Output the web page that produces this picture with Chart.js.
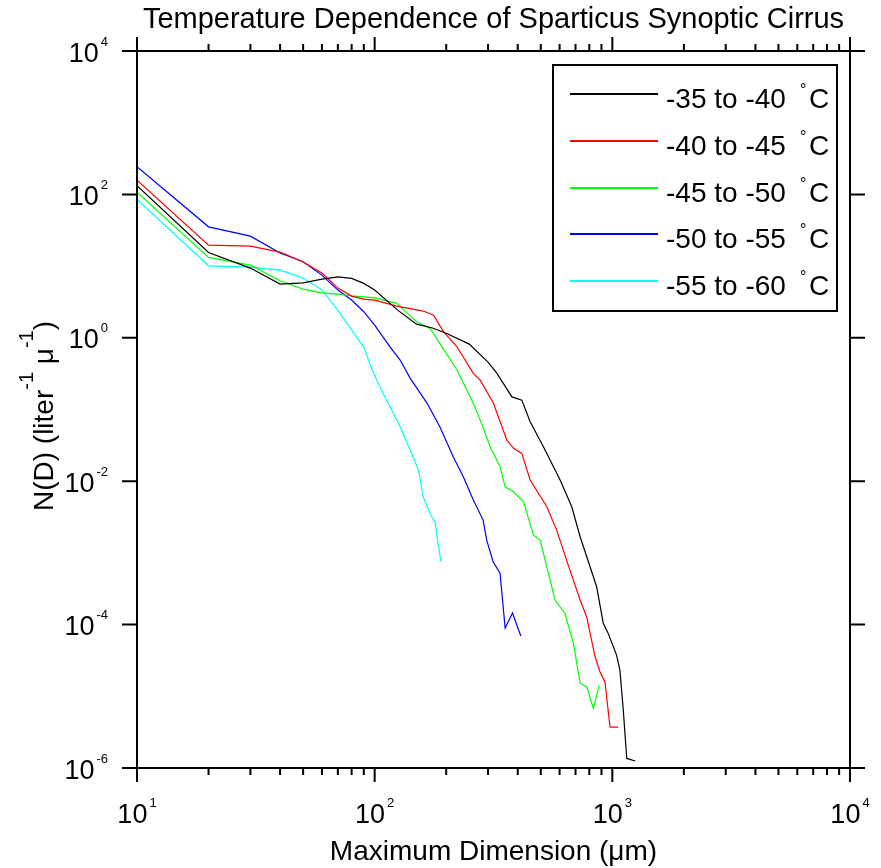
<!DOCTYPE html>
<html>
<head>
<meta charset="utf-8">
<script src="https://cdn.jsdelivr.net/npm/chart.js"></script>
<style>
  html, body { margin: 0; padding: 0; background: #fff; }
  canvas { display: block; }
</style>
</head>
<body>
<canvas id="sizeDist" width="881" height="868"></canvas>
<script>
const titleText = "Temperature Dependence of Sparticus Synoptic Cirrus";
const xTitle = "Maximum Dimension (\u03bcm)";
const seriesNames = ["-35 to -40", "-40 to -45", "-45 to -50", "-50 to -55", "-55 to -60"];
const seriesColors = ["#000000", "#ff0000", "#00ff00", "#0000ff", "#00ffff"];

// -35 to -40 C
const d35 = [10, 20, 30, 40, 50, 60, 70, 80, 90, 100, 125, 150, 175, 200, 250, 300, 327, 378, 416, 451, 513, 603, 675, 732, 806, 859, 916, 961, 1042, 1076, 1112, 1150, 1248];
const n35 = [132, 15.5, 9.38, 5.61, 5.85, 6.59, 7.09, 6.74, 5.74, 4.63, 2.43, 1.55, 1.37, 1.16, 0.817, 0.458, 0.319, 0.150, 0.135, 0.0674, 0.0302, 0.0104, 4.40e-3, 1.68e-3, 6.40e-4, 3.37e-4, 1.04e-4, 7.54e-5, 3.76e-5, 2.32e-5, 6.42e-6, 1.36e-6, 1.25e-6];

// -40 to -45 C
const d40 = [10, 20, 30, 40, 50, 60, 70, 80, 90, 100, 124, 160, 177, 195, 222, 260, 278, 316, 360, 384, 416, 451, 530, 583, 663, 732, 780, 846, 887, 931, 978, 1059];
const n40 = [158, 19.6, 19.0, 15.7, 11.4, 7.99, 4.93, 3.82, 3.47, 3.36, 2.77, 2.36, 2.07, 1.21, 0.749, 0.319, 0.257, 0.122, 0.0374, 0.0287, 0.0244, 0.0104, 4.40e-3, 2.08e-3, 5.75e-4, 2.20e-4, 1.28e-4, 3.56e-5, 2.20e-5, 1.59e-5, 3.72e-6, 3.72e-6];

// -45 to -50 C
const d45 = [10, 20, 30, 40, 50, 60, 70, 80, 90, 100, 124, 150, 171, 188, 222, 260, 278, 306, 337, 354, 384, 423, 466, 497, 530, 574, 632, 686, 732, 780, 832, 881];
const n45 = [107, 13.2, 10.3, 6.24, 4.78, 4.24, 4.07, 3.85, 3.73, 3.61, 3.02, 1.67, 1.35, 0.835, 0.355, 0.122, 0.0711, 0.0302, 0.0159, 8.36e-3, 7.11e-3, 5.16e-3, 1.77e-3, 1.51e-3, 6.40e-4, 2.20e-4, 1.43e-4, 5.47e-5, 1.51e-5, 1.36e-5, 6.78e-6, 1.43e-5];

// -50 to -55 C
const d50 = [10, 20, 30, 40, 50, 60, 70, 80, 90, 100, 116, 128, 141, 166, 188, 214, 236, 260, 286, 296, 315, 337, 354, 380, 412];
const n50 = [243, 35.3, 26.2, 15.2, 11.5, 7.49, 4.63, 3.36, 2.31, 1.50, 0.749, 0.489, 0.274, 0.123, 0.0574, 0.0219, 0.0115, 5.45e-3, 2.87e-3, 1.51e-3, 7.52e-4, 5.23e-4, 8.93e-5, 1.45e-4, 6.92e-5];

// -55 to -60 C
const d55 = [10, 20, 30, 40, 50, 60, 70, 80, 90, 97, 105, 128, 141, 153, 160, 171, 180, 183, 190];
const n55 = [85.2, 10.1, 9.68, 8.79, 6.80, 4.63, 2.43, 1.28, 0.742, 0.374, 0.207, 0.0574, 0.0272, 0.0143, 6.06e-3, 3.56e-3, 2.58e-3, 1.68e-3, 7.52e-4];

const xDecades = [10, 100, 1000, 10000];
const xDecadeExp = ["1", "2", "3", "4"];
const yDecades = [1e-6, 1e-4, 1e-2, 1, 1e2, 1e4];
const yDecadeExp = ["-6", "-4", "-2", "0", "2", "4"];

const FONT = "'Liberation Sans', Arial, sans-serif";

const toPoints = (xs, ys) => xs.map((x, i) => ({ x, y: ys[i] }));
const allX = [d35, d40, d45, d50, d55];
const allY = [n35, n40, n45, n50, n55];

const datasets = seriesNames.map((name, i) => ({
  label: name,
  data: toPoints(allX[i], allY[i]),
  borderColor: seriesColors[i],
  borderWidth: 1.2,
  pointRadius: 0,
  fill: false,
  tension: 0,
}));

// "10" with a raised exponent
function powerLabel(ctx, exp, x, y, align) {
  ctx.font = "27px " + FONT;
  const wMain = ctx.measureText("10").width;
  ctx.font = "13px " + FONT;
  const wExp = ctx.measureText(exp).width;
  const gap = 2;
  const total = wMain + gap + wExp;
  const left = align === "center" ? x - total / 2 : x - total;
  ctx.font = "27px " + FONT;
  ctx.fillText("10", left, y);
  ctx.font = "13px " + FONT;
  ctx.fillText(exp, left + wMain + gap, y - 16);
}

const framePlugin = {
  id: "frame",
  afterDraw(chart) {
    const { ctx, chartArea: a } = chart;
    const xs = chart.scales.x;
    const ys = chart.scales.y;
    ctx.save();
    ctx.strokeStyle = "#000";
    ctx.fillStyle = "#000";
    ctx.lineWidth = 2;

    // axes box
    ctx.beginPath();
    ctx.moveTo(a.left - 1, a.bottom);
    ctx.lineTo(a.right + 1, a.bottom);
    ctx.moveTo(a.left - 1, a.top);
    ctx.lineTo(a.right + 1, a.top);
    ctx.moveTo(a.left, a.top);
    ctx.lineTo(a.left, a.bottom);
    ctx.moveTo(a.right, a.top);
    ctx.lineTo(a.right, a.bottom);

    // x ticks, bottom and top, pointing out
    xDecades.forEach((d, k) => {
      const px = xs.getPixelForValue(d);
      ctx.moveTo(px, a.bottom);
      ctx.lineTo(px, a.bottom + 14);
      ctx.moveTo(px, a.top);
      ctx.lineTo(px, a.top - 14);
      if (k < xDecades.length - 1) {
        for (let m = 2; m <= 9; m++) {
          const mx = xs.getPixelForValue(m * d);
          ctx.moveTo(mx, a.bottom);
          ctx.lineTo(mx, a.bottom + 7);
          ctx.moveTo(mx, a.top);
          ctx.lineTo(mx, a.top - 7);
        }
      }
    });

    // y ticks, left and right
    yDecades.forEach((d) => {
      const py = ys.getPixelForValue(d);
      ctx.moveTo(a.left - 15, py);
      ctx.lineTo(a.left, py);
      ctx.moveTo(a.right, py);
      ctx.lineTo(a.right + 15, py);
    });
    ctx.stroke();

    // tick labels
    ctx.textAlign = "left";
    ctx.textBaseline = "alphabetic";
    xDecades.forEach((d, k) => {
      powerLabel(ctx, xDecadeExp[k], xs.getPixelForValue(d), a.bottom + 55, "center");
    });
    yDecades.forEach((d, k) => {
      powerLabel(ctx, yDecadeExp[k], a.left - 29, ys.getPixelForValue(d) + 10.5, "right");
    });

    // title and x title
    const cx = (a.left + a.right) / 2;
    ctx.textAlign = "center";
    ctx.font = "29px " + FONT;
    ctx.fillText(titleText, cx, 28);
    ctx.font = "28px " + FONT;
    ctx.fillText(xTitle, cx, 860);

    // y title with superscripts
    const parts = [
      ["N(D) (liter", 28, 0],
      ["-1", 20, -20],
      [" \u03bc", 28, 0],
      ["-1", 20, -20],
      [")", 28, 0],
    ];
    ctx.textAlign = "left";
    let total = 0;
    parts.forEach((p) => {
      ctx.font = p[1] + "px " + FONT;
      total += ctx.measureText(p[0]).width;
    });
    ctx.save();
    ctx.translate(53, 416);
    ctx.rotate(-Math.PI / 2);
    let tx = -total / 2;
    parts.forEach((p) => {
      ctx.font = p[1] + "px " + FONT;
      ctx.fillText(p[0], tx, p[2]);
      tx += ctx.measureText(p[0]).width;
    });
    ctx.restore();

    // legend
    const box = { l: 553, t: 65, r: 837, b: 311 };
    ctx.fillStyle = "#fff";
    ctx.fillRect(box.l, box.t, box.r - box.l, box.b - box.t);
    ctx.strokeStyle = "#000";
    ctx.lineWidth = 2;
    ctx.strokeRect(box.l, box.t, box.r - box.l, box.b - box.t);
    seriesNames.forEach((name, i) => {
      const ry = Math.round(94 + i * 46.8);
      ctx.fillStyle = seriesColors[i];
      ctx.fillRect(570, ry - 1, 88, 2);
      ctx.fillStyle = "#000";
      ctx.font = "28px " + FONT;
      ctx.fillText(name, 666, ry + 14);
      ctx.font = "16px " + FONT;
      ctx.fillText("\u00b0", 800, ry + 1);
      ctx.font = "28px " + FONT;
      ctx.fillText("C", 809, ry + 14);
    });

    ctx.restore();
  },
};

new Chart(document.getElementById("sizeDist"), {
  type: "line",
  data: { datasets },
  options: {
    responsive: false,
    animation: false,
    devicePixelRatio: 1,
    layout: { padding: { left: 137, right: 31, top: 51, bottom: 100 } },
    scales: {
      x: { type: "logarithmic", min: 10, max: 10000, display: false },
      y: { type: "logarithmic", min: 1e-6, max: 1e4, display: false },
    },
    plugins: {
      legend: { display: false },
      title: { display: false },
      tooltip: { enabled: false },
    },
  },
  plugins: [framePlugin],
});
</script>
</body>
</html>
